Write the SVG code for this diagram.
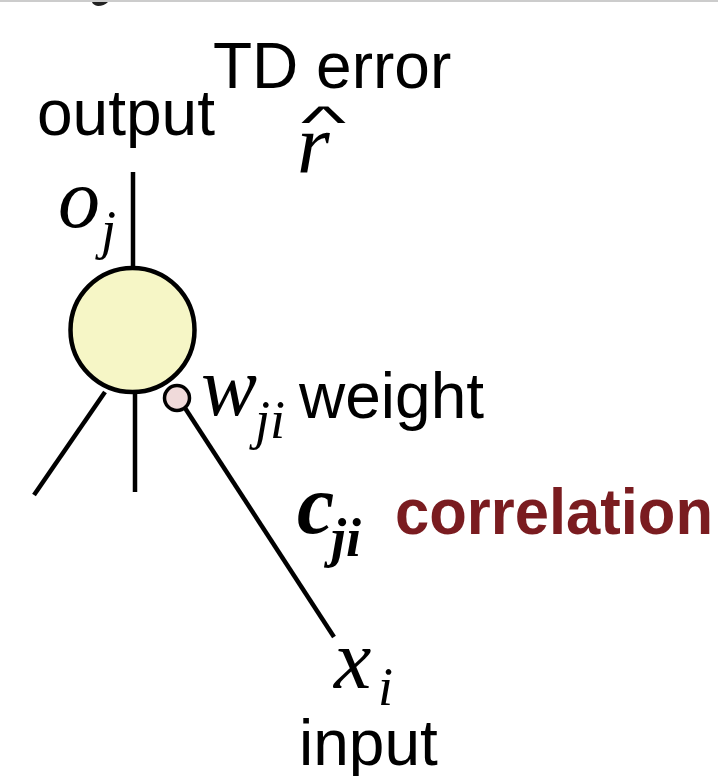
<svg xmlns="http://www.w3.org/2000/svg" width="718" height="776" viewBox="0 0 718 776">
<style>
.lbl{font-family:"Liberation Sans",Arial,sans-serif;font-size:64px;fill:#000}
.red{fill:#7a1c20;font-weight:bold}
.m{font-family:"Liberation Serif","Times New Roman",serif;font-style:italic;font-size:84px;fill:#000}
.s{font-size:54px}
.ln{stroke:#000;stroke-width:4.5;fill:none}
</style>
<rect width="718" height="776" fill="#fff"/>
<line x1="0" y1="1" x2="718" y2="1" stroke="#cccccc" stroke-width="2"/>
<path d="M92 2 L108 2 Q104 6 98 6 Q93 5 92 2 Z" fill="#222"/>
<g id="connectors">
<line class="ln" x1="133" y1="172" x2="133" y2="268"/>
<line class="ln" x1="105" y1="392" x2="34" y2="495"/>
<line class="ln" x1="135" y1="394" x2="135" y2="492"/>
<line class="ln" x1="185" y1="408" x2="334" y2="637"/>
</g>
<g id="neuron">
<circle cx="132.5" cy="330" r="62" fill="#f6f6c6" stroke="#000" stroke-width="4.5"/>
</g>
<g id="synapse">
<circle cx="177" cy="398" r="12.5" fill="#f0dada" stroke="#000" stroke-width="3.5"/>
</g>
<g id="labels">
<text class="lbl" x="37" y="135">output</text>
<text class="lbl" x="213" y="88">TD error</text>
<text class="m" x="297" y="173">r</text>
<text class="lbl" font-size="48" transform="translate(301,138) scale(1.5,0.72)">^</text>
<text class="m" x="58" y="227">o</text>
<text class="m s" x="101" y="248">j</text>
<text class="m" x="201" y="415">w</text>
<text class="m s" x="255" y="438">ji</text>
<text class="lbl" x="299" y="418">weight</text>
<text class="m red" x="297" y="533" font-size="90">c</text>
<text class="m s red" x="331" y="556" font-size="56">ji</text>
<text class="lbl red" x="395" y="534" font-size="60" textLength="318" lengthAdjust="spacingAndGlyphs">correlation</text>
<text class="m" x="334" y="688" font-size="90">x</text>
<text class="m s" x="378" y="705">i</text>
<text class="lbl" x="299" y="765">input</text>
</g>
</svg>
